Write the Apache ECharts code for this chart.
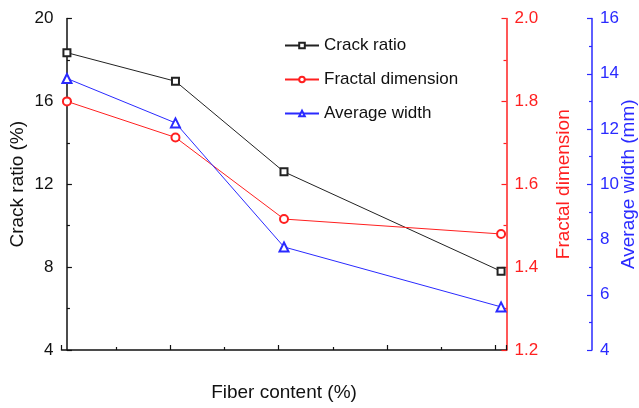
<!DOCTYPE html>
<html>
<head>
<meta charset="utf-8">
<script src="https://cdn.jsdelivr.net/npm/echarts@6/dist/echarts.min.js"></script>
<style>html,body{margin:0;padding:0;background:#fff}#c{width:639px;height:408px}</style>
</head>
<body>
<div id="c"></div>
<script>
const fiber = [0, 2, 4, 8];
const crackRatio = [18.35, 16.97, 12.6, 7.8];
const fractalDim = [1.80, 1.713, 1.516, 1.48];
const avgWidth = [13.83, 12.22, 7.73, 5.56];
const seriesNames = ['Crack ratio', 'Fractal dimension', 'Average width'];

const FONT = 'Liberation Sans, Arial, sans-serif';
const BLACK = '#222', RED = '#ff2020', BLUE = '#2a2aff';
function pairs(vals){ return fiber.map((x,i)=>[x, vals[i]]); }

const chart = echarts.init(document.getElementById('c'));
chart.setOption({
  animation: false,
  backgroundColor: '#fff',
  grid: {left: 61.5, right: 132.5, top: 18.5, bottom: 58, containLabel: false, outerBoundsMode: 'none'},
  legend: {
    orient: 'vertical', left: 279, top: 32, itemGap: 17, itemWidth: 34, itemHeight: 7,
    textStyle: {fontFamily: FONT, fontSize: 17, color: '#111'},
    data: seriesNames
  },
  xAxis: {
    type: 'value', min: -0.1, max: 8.1, interval: 2,
    name: 'Fiber content (%)', nameLocation: 'middle', nameGap: 33, nameMoveOverlap: false,
    nameTextStyle: {fontFamily: FONT, fontSize: 19, color: '#111'},
    axisLine: {lineStyle: {color: '#111', width: 1.5}},
    axisTick: {inside: true, length: 5, lineStyle: {color: '#111', width: 1.2}},
    minorTick: {show: true, splitNumber: 2, length: 3, lineStyle: {color: '#111', width: 1.2}},
    axisLabel: {fontFamily: FONT, fontSize: 17, color: '#111', margin: 8,
      formatter: v => (Math.abs(v - Math.round(v)) < 1e-6 ? String(Math.round(v)) : '')},
    splitLine: {show: false}
  },
  yAxis: [
    {
      type: 'value', min: 4, max: 20, interval: 4, position: 'left',
      name: 'Crack ratio (%)', nameLocation: 'middle', nameGap: 34, nameMoveOverlap: false,
      nameTextStyle: {fontFamily: FONT, fontSize: 19, color: '#111'},
      axisLine: {show: true, lineStyle: {color: '#111', width: 1.5}},
      axisTick: {inside: true, length: 5, lineStyle: {color: '#111', width: 1.2}},
      minorTick: {show: true, splitNumber: 2, length: 3, lineStyle: {color: '#111', width: 1.2}},
      axisLabel: {fontFamily: FONT, fontSize: 17, color: '#111', margin: 8},
      splitLine: {show: false}
    },
    {
      type: 'value', min: 1.2, max: 2.0, interval: 0.2, position: 'right', offset: 0,
      name: 'Fractal dimension', nameLocation: 'middle', nameGap: 48, nameMoveOverlap: false,
      nameTextStyle: {fontFamily: FONT, fontSize: 19, color: RED},
      axisLine: {show: true, lineStyle: {color: RED, width: 1.5}},
      axisTick: {inside: true, length: 5, lineStyle: {color: RED, width: 1.2}},
      minorTick: {show: true, splitNumber: 2, length: 3, lineStyle: {color: RED, width: 1.2}},
      axisLabel: {fontFamily: FONT, fontSize: 17, color: RED, margin: 8, formatter: v => v.toFixed(1)},
      splitLine: {show: false}
    },
    {
      type: 'value', min: 4, max: 16, interval: 2, position: 'right', offset: 85.5,
      name: 'Average width (mm)', nameLocation: 'middle', nameGap: 27, nameMoveOverlap: false,
      nameTextStyle: {fontFamily: FONT, fontSize: 19, color: BLUE},
      axisLine: {show: true, lineStyle: {color: BLUE, width: 1.5}},
      axisTick: {inside: true, length: 5, lineStyle: {color: BLUE, width: 1.2}},
      minorTick: {show: true, splitNumber: 2, length: 3, lineStyle: {color: BLUE, width: 1.2}},
      axisLabel: {fontFamily: FONT, fontSize: 17, color: BLUE, margin: 8},
      splitLine: {show: false}
    }
  ],
  series: [
    {name: seriesNames[0], type: 'line', yAxisIndex: 0, data: pairs(crackRatio),
     symbol: 'emptyRect', symbolSize: 7, lineStyle: {color: BLACK, width: 1},
     itemStyle: {color: BLACK, borderColor: BLACK, borderWidth: 1}, z: 3},
    {name: seriesNames[1], type: 'line', yAxisIndex: 1, data: pairs(fractalDim),
     symbol: 'emptyCircle', symbolSize: 8, lineStyle: {color: RED, width: 1},
     itemStyle: {color: RED, borderColor: RED, borderWidth: 1}, z: 3},
    {name: seriesNames[2], type: 'line', yAxisIndex: 2, data: pairs(avgWidth),
     symbol: 'emptyTriangle', symbolSize: 9, lineStyle: {color: BLUE, width: 1},
     itemStyle: {color: BLUE, borderColor: BLUE, borderWidth: 1}, z: 3}
  ]
});
</script>
</body>
</html>
